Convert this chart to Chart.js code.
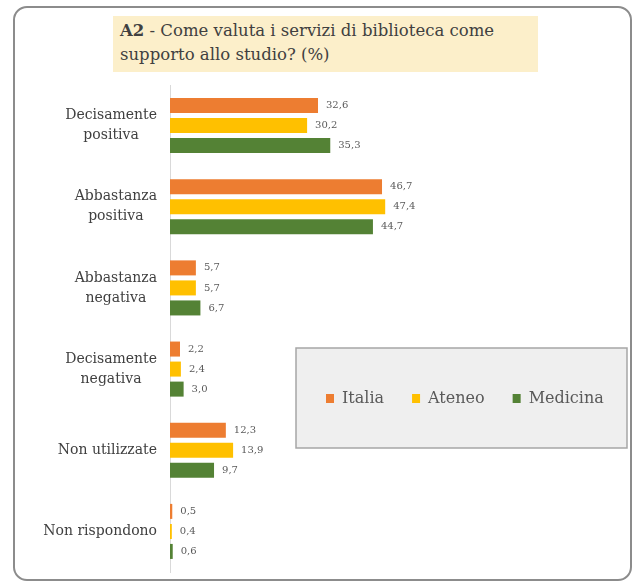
<!DOCTYPE html>
<html>
<head>
<meta charset="utf-8">
<script src="https://cdn.jsdelivr.net/npm/chart.js@4.4.1/dist/chart.umd.min.js"></script>
<style>
  body { margin:0; background:#fff; width:635px; height:583px; position:relative; overflow:hidden; }
  #frame { position:absolute; left:13px; top:6px; width:615px; height:571px; border:2px solid #8c8c8c; border-radius:14px; }
  #title { position:absolute; left:113px; top:16px; width:425px; height:56px; background:#fcefca;
           font-family:"DejaVu Serif", serif; font-size:16.5px; line-height:24px; color:#404040; padding:3px 0 0 7px; box-sizing:border-box; }
  #title b { font-weight:bold; }
  #wrap { position:absolute; left:14px; top:80px; width:616px; height:497px; }
</style>
</head>
<body>
<div id="frame"></div>
<div id="title"><b>A2</b> - Come valuta i servizi di biblioteca come<br>supporto allo studio? (%)</div>
<div id="wrap"><canvas id="chart"></canvas></div>
<script>
// dati
const categories = [["Decisamente","positiva"],["Abbastanza","positiva"],["Abbastanza","negativa"],["Decisamente","negativa"],["Non utilizzate"],["Non rispondono"]];
const seriesNames = ["Italia","Ateneo","Medicina"];
const italia   = [32.6, 46.7, 5.7, 2.2, 12.3, 0.5];
const ateneo   = [30.2, 47.4, 5.7, 2.4, 13.9, 0.4];
const medicina = [35.3, 44.7, 6.7, 3.0, 9.7, 0.6];
const colors = ['#ED7D31','#FFC000','#548235'];

const serif = '"DejaVu Serif", serif';

// etichette valori, categorie e legenda disegnate a mano
const labelPlugin = {
  id:'customLabels',
  afterDatasetsDraw(chart){
    const ctx = chart.ctx;
    ctx.save();
    ctx.font = '10px ' + serif;
    ctx.fillStyle = '#595959';
    ctx.textAlign = 'left';
    ctx.textBaseline = 'middle';
    chart.data.datasets.forEach((ds,i)=>{
      chart.getDatasetMeta(i).data.forEach((bar,j)=>{
        ctx.fillText(ds.data[j].toFixed(1).replace('.',','), bar.x + 8, bar.y);
      });
    });

    const yScale = chart.scales.y;
    ctx.font = '14px ' + serif;
    ctx.fillStyle = '#404040';
    ctx.textAlign = 'center';
    const right = chart.chartArea.left - 13;
    chart.data.labels.forEach((lab,j)=>{
      const lines = Array.isArray(lab) ? lab : [lab];
      const w = Math.max(...lines.map(l=>ctx.measureText(l).width));
      const yc = yScale.getPixelForValue(j);
      lines.forEach((l,k)=>{
        ctx.fillText(l, right - w/2, yc + (k-(lines.length-1)/2)*20);
      });
    });

    // legenda
    const bx = 282, by = 268, bw = 331, bh = 100;
    ctx.fillStyle = '#efefef';
    ctx.fillRect(bx, by, bw, bh);
    ctx.strokeStyle = '#a6a6a6';
    ctx.lineWidth = 1.5;
    ctx.strokeRect(bx, by, bw, bh);
    ctx.font = '16px ' + serif;
    ctx.textAlign = 'left';
    let x = 312;
    const ly = by + bh/2;
    chart.data.datasets.forEach((ds)=>{
      ctx.fillStyle = ds.backgroundColor;
      ctx.fillRect(x, ly - 4, 8, 9);
      ctx.fillStyle = '#595959';
      ctx.fillText(ds.label, x + 16, ly + 1);
      x += 16 + ctx.measureText(ds.label).width + 28;
    });
    ctx.restore();
  }
};

const ctx = document.getElementById('chart');
new Chart(ctx, {
  type:'bar',
  plugins:[labelPlugin],
  data:{
    labels:categories,
    datasets:[
      {label:seriesNames[0], data:italia, backgroundColor:colors[0]},
      {label:seriesNames[1], data:ateneo, backgroundColor:colors[1]},
      {label:seriesNames[2], data:medicina, backgroundColor:colors[2]}
    ]
  },
  options:{
    indexAxis:'y',
    responsive:true,
    maintainAspectRatio:false,
    animation:false,
    categoryPercentage:0.74,
    barPercentage:0.75,
    layout:{ padding:{ left:0, right:6, top:5, bottom:5 } },
    plugins:{ legend:{display:false}, tooltip:{enabled:false} },
    scales:{
      x:{ display:false, min:0, max:100 },
      y:{
        ticks:{ display:false },
        grid:{ display:false },
        border:{ display:true, color:'#d9d9d9', width:1 },
        afterFit(scale){ scale.width = 156; }
      }
    }
  }
});
</script>
</body>
</html>
